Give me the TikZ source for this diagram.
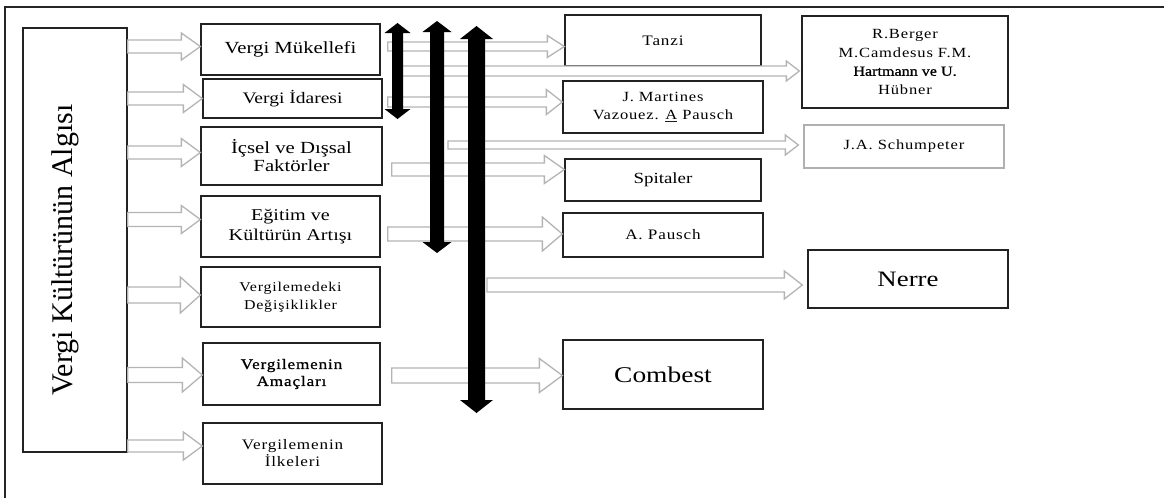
\documentclass[tikz,border=0pt]{standalone}
\usepackage{fontspec}
\setmainfont{Liberation Serif}[FakeStretch=1.22]
\newfontfamily\uprightserif{Liberation Serif}
\newfontfamily\spacedserif{Liberation Serif}[FakeStretch=1.18,LetterSpace=6]
\newfontfamily\spacedheavy{Liberation Serif}[FakeStretch=1.18,LetterSpace=6,FakeBold=1]
\newfontfamily\heavyserif{Liberation Serif}[FakeStretch=1.15,FakeBold=1]
\usetikzlibrary{calc}

\definecolor{boxline}{HTML}{222222}
\definecolor{arrowgray}{HTML}{B4B4B4}
\definecolor{lightframe}{HTML}{B0B0B0}

% hollow block arrow: [style]{start}{end}{shaft half}{head half}{head length}
% the arrow runs horizontally at the height of the end point
\newcommand\blockarrow[6][]{%
  \draw[hollowarrow,#1] let \p1=#2, \p2=#3 in
    (\x1,\y2+#4) -- (\x2-#6,\y2+#4) -- (\x2-#6,\y2+#5) -- (\x2,\y2)
    -- (\x2-#6,\y2-#5) -- (\x2-#6,\y2-#4) -- (\x1,\y2-#4) -- cycle;}

% solid vertical double arrow: {top}{bottom}{shaft half}{head half}{head length}
\newcommand\dblarrow[5]{%
  \fill[black] let \p1=(#1), \p2=(#2) in
    (\x1-#3,\y1-#5) -- (\x1-#4,\y1-#5) -- (\x1,\y1) -- (\x1+#4,\y1-#5)
    -- (\x1+#3,\y1-#5) -- (\x1+#3,\y2+#5) -- (\x1+#4,\y2+#5) -- (\x1,\y2)
    -- (\x1-#4,\y2+#5) -- (\x1-#3,\y2+#5) -- cycle;}

\tikzset{
  box/.style={draw=boxline, line width=1.3pt, fill=white, inner sep=0pt, align=center},
  hollowarrow/.style={draw=arrowgray, line width=1.3pt, fill=white, line join=miter},
  frameline/.style={draw=black!85, line width=1.8pt},
}

\begin{document}
\begin{tikzpicture}[x=1pt,y=-1pt]
\useasboundingbox (0,0) rectangle (1164,498);

% outer frame
\draw[frameline] (5,498) -- (5,7) -- (1164,7);

% left column
\node[box, minimum width=104, minimum height=424] (alg) at (75,240) {};
\node[rotate=90, anchor=base, inner sep=0pt, font=\uprightserif\fontsize{30}{36}\selectfont]
  (algtxt) at (72,250) {Vergi Kültürünün Algısı};

% middle column
\node[box, minimum width=179, minimum height=51, font=\fontsize{17}{19}\selectfont]
  (m1) at (290.5,49.5) {Vergi Mükellefi};
\node[box, minimum width=179, minimum height=39, font=\fontsize{16}{19}\selectfont]
  (m2) at (292.5,98.5) {Vergi İdaresi};
\node[box, minimum width=181, minimum height=58, font=\fontsize{17}{18}\selectfont]
  (m3) at (291.5,156) {İçsel ve Dışsal\\Faktörler};
\node[box, minimum width=179, minimum height=61, font=\fontsize{16.5}{19.5}\selectfont]
  (m4) at (290.5,226.5) {Eğitim ve\\Kültürün Artışı};
\node[box, minimum width=179, minimum height=60, font=\spacedserif\fontsize{13.5}{18}\selectfont]
  (m5) at (290.5,297) {Vergilemedeki\\Değişiklikler};
\node[box, minimum width=177, minimum height=62, font=\spacedheavy\fontsize{14.5}{17}\selectfont]
  (m6) at (291.5,374) {Vergilemenin\\Amaçları};
\node[box, minimum width=179, minimum height=61, font=\spacedserif\fontsize{14.5}{17}\selectfont]
  (m7) at (292.5,453.5) {Vergilemenin\\İlkeleri};

% right column
\node[box, minimum width=196, minimum height=51, font=\spacedserif\fontsize{14.5}{17}\selectfont]
  (r1) at (663,40.5) {Tanzi};
\node[box, minimum width=200, minimum height=52, font=\spacedserif\fontsize{14}{18}\selectfont]
  (r2) at (663,107) {J. Martines\\Vazouez. {\color{blue}\underline{\color{black}A}} Pausch};
\node[box, minimum width=196, minimum height=42, font=\fontsize{15.5}{18}\selectfont]
  (r3) at (663,180) {Spitaler};
\node[box, minimum width=200, minimum height=44, font=\spacedserif\fontsize{14.5}{17}\selectfont]
  (r4) at (663,235) {A. Pausch};
\node[box, minimum width=200, minimum height=69, font=\fontsize{22.5}{26}\selectfont]
  (r5) at (663,374.5) {Combest};

% far right column
\node[box, minimum width=206, minimum height=92, font=\spacedserif\fontsize{14}{18.5}\selectfont]
  (f1) at (905,62) {R.Berger\\M.Camdesus F.M.\\{\heavyserif Hartmann ve U.}\\Hübner};
\node[box, draw=lightframe, minimum width=200, minimum height=43, font=\spacedserif\fontsize{14}{17}\selectfont]
  (f2) at (904,146.5) {J.A. Schumpeter};
\node[box, minimum width=200, minimum height=58, font=\fontsize{22}{26}\selectfont]
  (f3) at (908,279) {Nerre};

% axes of the solid double arrows
\coordinate (k1t) at (397.5,23);  \coordinate (k1b) at (397.5,119);
\coordinate (k2t) at (437,21);    \coordinate (k2b) at (437,253);
\coordinate (k3t) at (476.5,26);  \coordinate (k3b) at (476.5,413);

% hollow arrows from the left column
\blockarrow{(alg.east)}{($(m1.west)+(0,-3)$)}{6.5pt}{13.5pt}{19pt}
\blockarrow{(alg.east)}{($(m2.west)+(0,0)$)}{6.5pt}{14pt}{19pt}
\blockarrow{(alg.east)}{($(m3.west)+(0,-3.5)$)}{6.5pt}{14pt}{19pt}
\blockarrow{(alg.east)}{($(m4.west)+(0,-7)$)}{7pt}{14pt}{19pt}
\blockarrow{(alg.east)}{($(m5.west)+(0,-2)$)}{8pt}{18pt}{20pt}
\blockarrow{(alg.east)}{($(m6.west)+(0,1)$)}{7.5pt}{17pt}{20pt}
\blockarrow{(alg.east)}{($(m7.west)+(0,-7.5)$)}{6pt}{14pt}{19pt}

% hollow arrows towards the right columns
\blockarrow{($(m1.east)+(7,0)$)}{($(r1.west)+(0,6)$)}{4.5pt}{11pt}{17pt}
\blockarrow{(k1t)}{($(f1.west)+(-2,9)$)}{5pt}{10pt}{13pt}
\blockarrow{($(m2.east)+(5,0)$)}{($(r2.west)+(0,-5)$)}{5pt}{12.5pt}{16pt}
\blockarrow{($(k2t)+(11,0)$)}{($(f2.west)+(-5,-1.5)$)}{4pt}{10pt}{13pt}
\blockarrow{($(m3.east)+(9,0)$)}{($(r3.west)+(0,-10.5)$)}{6.5pt}{14pt}{20pt}
\blockarrow{($(m4.east)+(7,0)$)}{($(r4.west)+(0,-1)$)}{7pt}{17pt}{20pt}
\blockarrow{($(k3t)+(10.5,0)$)}{($(f3.west)+(-5,6)$)}{7pt}{14pt}{18pt}
\blockarrow{($(m6.east)+(11,0)$)}{($(r5.west)+(0,1)$)}{7.5pt}{17pt}{23pt}

% solid double arrows on top
\dblarrow{k1t}{k1b}{5.5pt}{13pt}{10pt}
\dblarrow{k2t}{k2b}{7pt}{14.5pt}{11pt}
\dblarrow{k3t}{k3b}{8.5pt}{16.5pt}{13pt}
\end{tikzpicture}
\end{document}
